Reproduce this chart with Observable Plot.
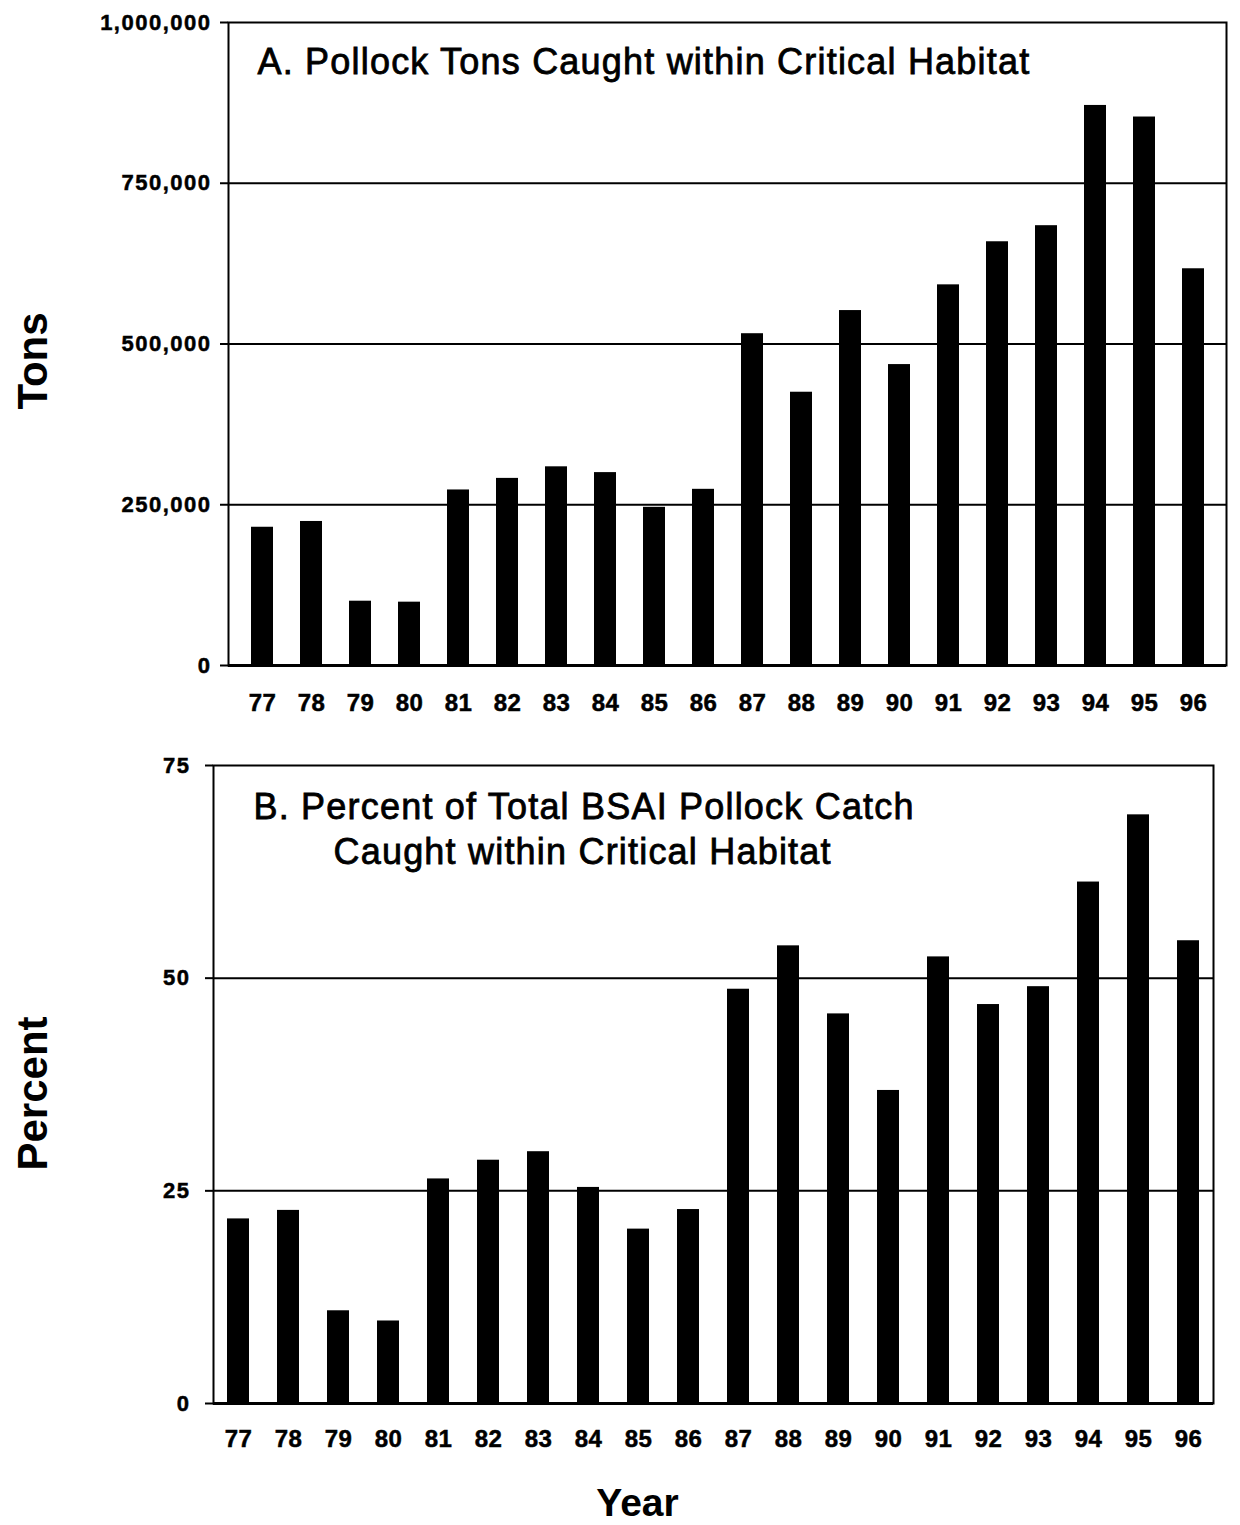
<!DOCTYPE html>
<html>
<head>
<meta charset="utf-8">
<script src="https://cdn.jsdelivr.net/npm/d3@7"></script>
<script src="https://cdn.jsdelivr.net/npm/@observablehq/plot@0.6"></script>
<style>
  body { margin: 0; background: #fff; }
  #chart { width: 1240px; }
  #chart svg { display: block; }
</style>
</head>
<body>
<div id="chart"></div>
<script>
// Survey years (19xx), shown as two-digit labels
const years = ["77", "78", "79", "80", "81", "82", "83", "84", "85", "86",
               "87", "88", "89", "90", "91", "92", "93", "94", "95", "96"];

// A. Pollock tons caught within critical habitat
const tonsCaught = [215000, 224000, 100000, 98500, 273000, 291000, 309000, 300000, 246000, 274000,
                    516000, 425000, 552000, 468000, 592000, 659000, 684000, 871000, 853000, 617000];

// B. Percent of total BSAI pollock catch caught within critical habitat
const percentOfTotal = [21.7, 22.7, 10.9, 9.7, 26.4, 28.6, 29.6, 25.4, 20.5, 22.8,
                        48.7, 53.8, 45.8, 36.8, 52.5, 46.9, 49.0, 61.3, 69.2, 54.4];

const tonTicks = [0, 250000, 500000, 750000, 1000000];
const percentTicks = [0, 25, 50, 75];

const titleA = ["A. Pollock Tons Caught within Critical Habitat"];
const titleB1 = ["B. Percent of Total BSAI Pollock Catch"];
const titleB2 = ["Caught within Critical Habitat"];
const yTitleA = ["Tons"];
const yTitleB = ["Percent"];
const xTitle = ["Year"];

const FONT = "'Liberation Sans', Arial, Helvetica, sans-serif";
const formatTons = d3.format(",");

const tonsRows = years.map((year, i) => ({year, value: tonsCaught[i]}));
const percentRows = years.map((year, i) => ({year, value: percentOfTotal[i]}));

const panelA = Plot.plot({
  width: 1240,
  height: 745,
  marginTop: 22,
  marginBottom: 80,
  marginLeft: 228,
  marginRight: 14,
  style: {fontFamily: FONT, color: "black", background: "white", overflow: "visible"},
  x: {type: "band", domain: years, paddingInner: 0.56, paddingOuter: 0.28},
  y: {domain: [0, 1000000]},
  marks: [
    Plot.ruleY(tonTicks.slice(1, -1), {stroke: "black", strokeWidth: 2}),
    Plot.barY(tonsRows, {x: "year", y: "value", fill: "black"}),
    Plot.ruleY([0], {stroke: "black", strokeWidth: 3}),
    Plot.frame({stroke: "black", strokeWidth: 2}),
    Plot.axisY({ticks: tonTicks, tickFormat: formatTons, tickSize: 8, tickPadding: 9,
                fontSize: 22, fontWeight: "bold", strokeWidth: 2, label: null}),
    Plot.axisX({tickSize: 0, tickPadding: 28, fontSize: 24, fontWeight: "bold", label: null}),
    Plot.text(titleA, {text: d => d, frameAnchor: "top-left", textAnchor: "start", lineAnchor: "bottom",
                       dx: 29, dy: 51, fontSize: 36}),
    Plot.text(yTitleA, {text: d => d, frameAnchor: "left", rotate: -90, textAnchor: "middle", lineAnchor: "middle",
                        dx: -195, dy: 17, fontSize: 42, fontWeight: "bold"})
  ]
});

const panelB = Plot.plot({
  width: 1240,
  height: 780,
  marginTop: 20,
  marginBottom: 122,
  marginLeft: 213,
  marginRight: 27,
  style: {fontFamily: FONT, color: "black", background: "white", overflow: "visible"},
  x: {type: "band", domain: years, paddingInner: 0.57, paddingOuter: 0.285},
  y: {domain: [0, 75]},
  marks: [
    Plot.ruleY(percentTicks.slice(1, -1), {stroke: "black", strokeWidth: 2}),
    Plot.barY(percentRows, {x: "year", y: "value", fill: "black"}),
    Plot.ruleY([0], {stroke: "black", strokeWidth: 3}),
    Plot.frame({stroke: "black", strokeWidth: 2}),
    Plot.axisY({ticks: percentTicks, tickSize: 8, tickPadding: 15,
                fontSize: 22, fontWeight: "bold", strokeWidth: 2, label: null}),
    Plot.axisX({tickSize: 0, tickPadding: 26, fontSize: 24, fontWeight: "bold", label: null}),
    Plot.text(titleB1, {text: d => d, frameAnchor: "top-left", textAnchor: "start", lineAnchor: "bottom",
                        dx: 40, dy: 53, fontSize: 36}),
    Plot.text(titleB2, {text: d => d, frameAnchor: "top-left", textAnchor: "start", lineAnchor: "bottom",
                        dx: 120, dy: 98, fontSize: 36}),
    Plot.text(yTitleB, {text: d => d, frameAnchor: "left", rotate: -90, textAnchor: "middle", lineAnchor: "middle",
                        dx: -180, dy: 9, fontSize: 42, fontWeight: "bold"}),
    Plot.text(xTitle, {text: d => d, frameAnchor: "bottom", textAnchor: "middle", lineAnchor: "bottom",
                       dx: -76, dy: 112, fontSize: 39, fontWeight: "bold"})
  ]
});

// Typography tweaks: heavier, slightly tracked labels like the printed figure
const yTickText = new Set([...tonTicks.map(formatTons), ...percentTicks.map(String)]);
const xTickText = new Set(years);
const titleText = new Set([...titleA, ...titleB1, ...titleB2]);

for (const svg of [panelA, panelB]) {
  svg.querySelectorAll("text").forEach(t => {
    const s = t.textContent;
    if (titleText.has(s)) {
      Object.assign(t.style, {fontSize: "36px", letterSpacing: "1.2px", stroke: "black", strokeWidth: "0.8px"});
    } else if (yTickText.has(s)) {
      Object.assign(t.style, {fontSize: "22px", fontWeight: "bold", letterSpacing: "1.5px",
                              stroke: "black", strokeWidth: "0.5px"});
    } else if (xTickText.has(s)) {
      Object.assign(t.style, {fontSize: "24px", fontWeight: "bold", letterSpacing: "0.5px",
                              stroke: "black", strokeWidth: "0.5px"});
    }
  });
}

const chart = document.getElementById("chart");
chart.append(panelA, panelB);
</script>
</body>
</html>
